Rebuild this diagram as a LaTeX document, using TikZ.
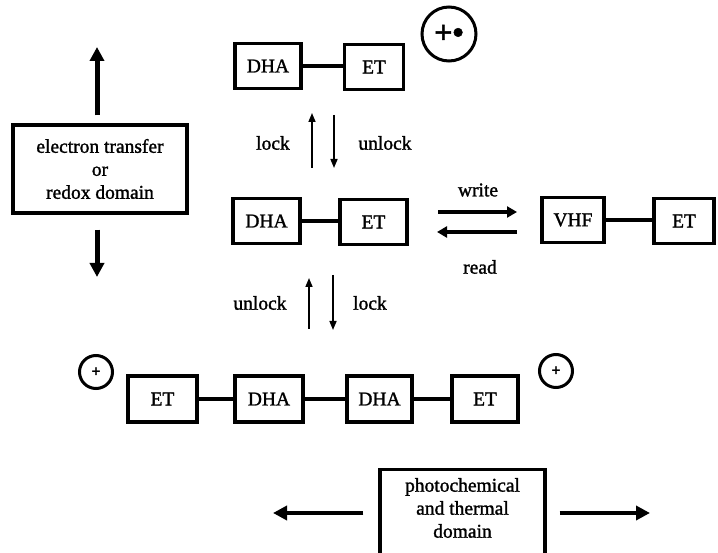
\documentclass[tikz,border=0pt]{standalone}
\usepackage{fontspec}
\setmainfont{Liberation Serif}[FakeBold=1.4]
\usetikzlibrary{arrows.meta}
\begin{document}
\begin{tikzpicture}[x=1pt,y=-1pt,
  every node/.style={font=\fontsize{19.5}{23}\selectfont, inner sep=0pt},
  unit/.style={draw, line width=3.4pt, minimum height=45pt},
  dyadlink/.style={line width=3.6pt},
  domainbox/.style={draw, line width=3.4pt},
  bigarrow/.style={line width=5pt, -{Triangle[length=14pt,width=14pt]}},
  swaparrow/.style={line width=4pt, -{Triangle[length=10pt,width=11pt]}},
  lockarrow/.style={line width=1.6pt, -{Triangle[length=9pt,width=7pt]}},
  charge/.style={draw, circle, line width=3pt},
]
\useasboundingbox (0,0) rectangle (718,553);

% electron transfer / redox domain
\node[domainbox, minimum width=174pt, minimum height=88pt, align=center] (redox) at (100,169)
  {electron transfer\\or\\redox domain};
\coordinate (redoxup) at (97,47);
\coordinate (redoxdown) at (97,277);
\draw[bigarrow] (redox.north -| redoxup) ++(0,-8) -- (redoxup);
\draw[bigarrow] (redox.south -| redoxdown) ++(0,15) -- (redoxdown);

% oxidised dyad (top)
\node[unit, minimum width=66pt] (tdha) at (268,66) {DHA};
\node[unit, minimum width=59pt] (tet) at (374,67) {ET};
\draw[dyadlink] (tdha.east) -- (tdha.east -| tet.west);
\node[charge, minimum size=54pt, font=\fontsize{32}{32}\selectfont\bfseries] (tcharge) at (449,34) {+•};

% lock / unlock between top and middle
\coordinate (ua1) at (312,168); \coordinate (ua2) at (312,113);
\coordinate (da1) at (334,115); \coordinate (da2) at (334,168);
\draw[lockarrow] (ua1) -- (ua2);
\draw[lockarrow] (da1) -- (da2);
\node (lock1) at (273,143) {lock};
\node (unlock1) at (385,143) {unlock};

% neutral dyad (middle)
\node[unit, minimum width=67pt] (mdha) at (266.5,221) {DHA};
\node[unit, minimum width=67pt] (met) at (373.5,222) {ET};
\draw[dyadlink] (mdha.east) -- (mdha.east -| met.west);

% write / read
\coordinate (w1) at (438,212); \coordinate (w2) at (517,212);
\coordinate (r1) at (517,232); \coordinate (r2) at (437,232);
\draw[swaparrow] (w1) -- (w2);
\draw[swaparrow] (r1) -- (r2);
\node (write) at (478,190) {write};
\node (read) at (480,267) {read};

% VHF dyad
\node[unit, minimum width=62pt] (vhf) at (573,220) {VHF};
\node[unit, minimum width=60pt] (vet) at (684,221) {ET};
\draw[dyadlink] (vhf.east) -- (vhf.east -| vet.west);

% lock / unlock between middle and bottom
\coordinate (ub1) at (309,329); \coordinate (ub2) at (309,278);
\coordinate (db1) at (333,275); \coordinate (db2) at (333,330);
\draw[lockarrow] (ub1) -- (ub2);
\draw[lockarrow] (db1) -- (db2);
\node (unlock2) at (260,303) {unlock};
\node (lock2) at (370,303) {lock};

% dimer (bottom)
\node[unit, minimum width=69pt, minimum height=46pt] (bet1) at (162.5,399) {ET};
\node[unit, minimum width=68pt, minimum height=46pt] (bdha1) at (269,399) {DHA};
\node[unit, minimum width=65pt, minimum height=46pt] (bdha2) at (379.5,399) {DHA};
\node[unit, minimum width=66pt, minimum height=46pt] (bet2) at (485,399) {ET};
\draw[dyadlink] (bet1.east) -- (bdha1.west);
\draw[dyadlink] (bdha1.east) -- (bdha2.west);
\draw[dyadlink] (bdha2.east) -- (bet2.west);
\node[charge, minimum size=33pt, font=\fontsize{16}{16}\selectfont\bfseries] (lcharge) at (96,372) {+};
\node[charge, minimum size=33pt, font=\fontsize{16}{16}\selectfont\bfseries] (rcharge) at (556,371) {+};

% photochemical and thermal domain
\node[domainbox, minimum width=165pt, minimum height=100pt, anchor=north] (photo) at (462.5,468) {};
\node[align=center] (phototext) at (462.5,508) {photochemical\\and thermal\\domain};
\coordinate (photoleft) at (273,513);
\coordinate (photoright) at (650,513);
\draw[bigarrow, line width=4pt] (photo.west |- photoleft) ++(-15,0) -- (photoleft);
\draw[bigarrow, line width=4pt] (photo.east |- photoright) ++(13,0) -- (photoright);
\end{tikzpicture}
\end{document}
